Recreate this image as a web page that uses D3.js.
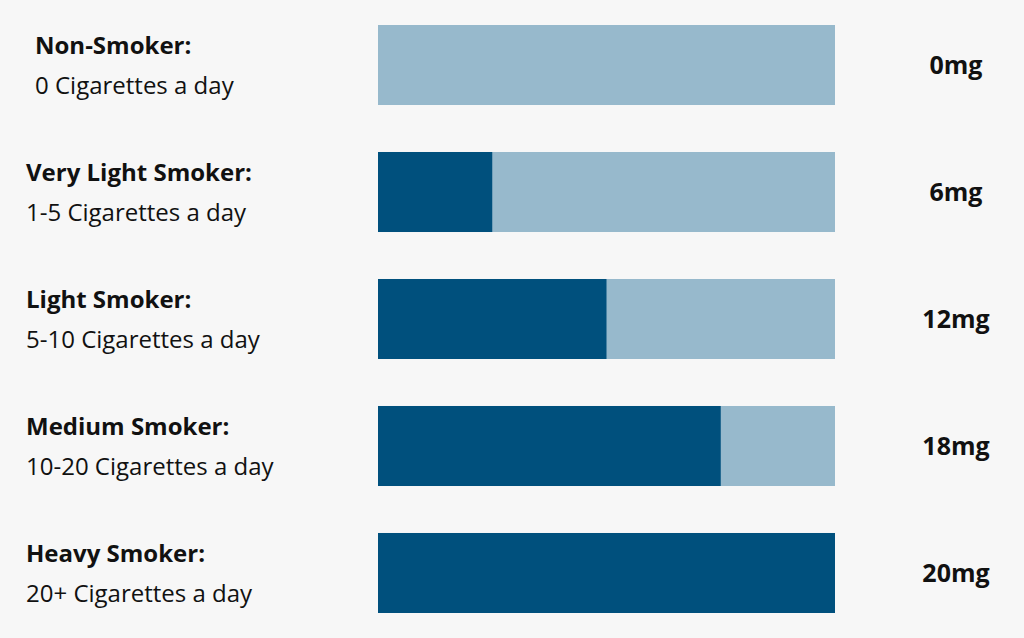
<!DOCTYPE html>
<html><head><meta charset="utf-8">
<script src="https://cdn.jsdelivr.net/npm/d3@7"></script>
<style>body{margin:0;background:#f7f7f7;}svg{display:block;font-family:"Open Sans",sans-serif;}</style>
</head><body><svg id="chart" width="1024" height="638"></svg>
<script>
const categories = ["Non-Smoker:", "Very Light Smoker:", "Light Smoker:", "Medium Smoker:", "Heavy Smoker:"];
const subLabels = ["0 Cigarettes a day", "1-5 Cigarettes a day", "5-10 Cigarettes a day", "10-20 Cigarettes a day", "20+ Cigarettes a day"];
const fillLevel = [0, 1, 2, 3, 4]; // quarters of the bar
const valueLabels = ["0mg", "6mg", "12mg", "18mg", "20mg"];

const svg = d3.select("#chart");
const x = d3.scaleLinear().domain([0, 4]).range([378, 835]);
const y = d3.scaleBand().domain(categories).range([25, 613]).paddingInner(0.37);

const g = svg.selectAll("g.row").data(categories).enter().append("g").attr("class", "row");

g.append("rect").attr("x", x(0)).attr("y", d => y(d))
  .attr("width", x(4) - x(0)).attr("height", y.bandwidth()).attr("fill", "#97b9cc");
g.append("rect").attr("x", x(0)).attr("y", d => y(d))
  .attr("width", (d, i) => x(fillLevel[i]) - x(0)).attr("height", y.bandwidth()).attr("fill", "#00507d");

g.append("text").attr("x", (d, i) => i === 0 ? 35 : 26).attr("y", d => y(d) + 29)
  .attr("font-size", 24).attr("font-weight", 700).attr("fill", "#111").text(d => d);
g.append("text").attr("x", (d, i) => i === 0 ? 35 : 26).attr("y", d => y(d) + 69)
  .attr("font-size", 24).attr("fill", "#111").text((d, i) => subLabels[i]);
g.append("text").attr("x", 956).attr("y", d => y(d) + y.bandwidth() / 2 + 9)
  .attr("text-anchor", "middle").attr("font-size", 25).attr("font-weight", 700).attr("fill", "#111")
  .text((d, i) => valueLabels[i]);
</script></body></html>
